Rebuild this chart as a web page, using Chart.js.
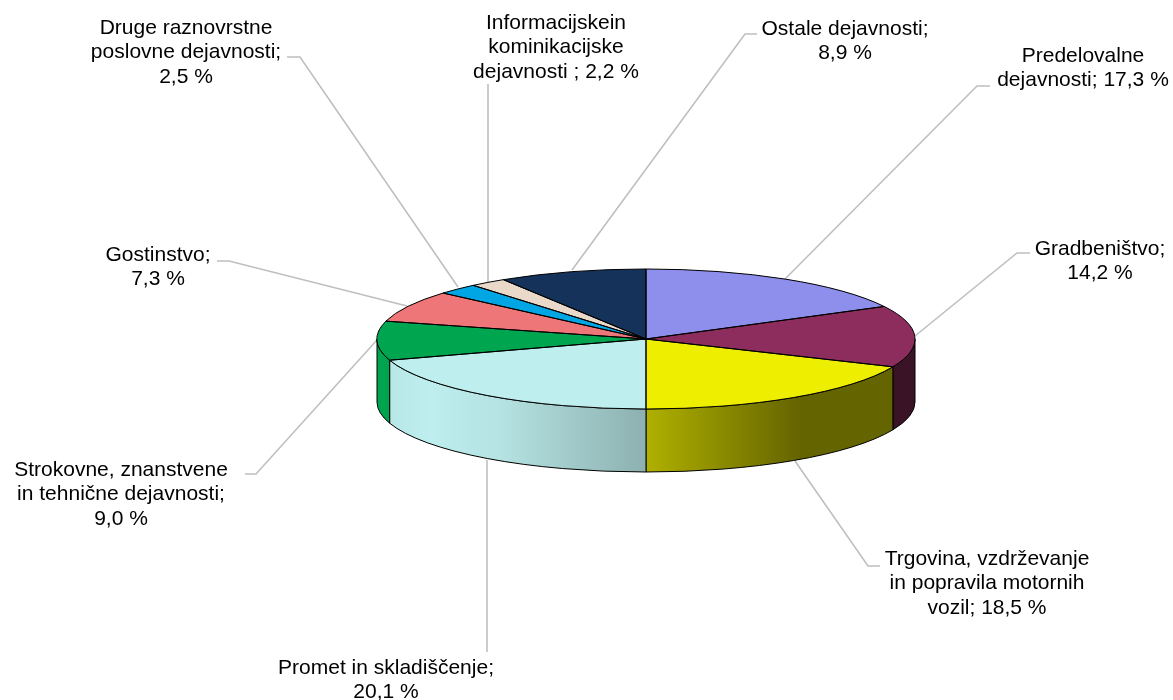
<!DOCTYPE html>
<html><head><meta charset="utf-8">
<style>html,body{margin:0;padding:0;background:#fff}canvas{display:block}</style>
<script src="https://cdn.jsdelivr.net/npm/chart.js@4"></script>
</head><body>
<canvas id="c" width="1173" height="700"></canvas>
<script>
const categories = ['Predelovalne dejavnosti','Gradbeništvo','Trgovina, vzdrževanje in popravila motornih vozil','Promet in skladiščenje','Strokovne, znanstvene in tehnične dejavnosti','Gostinstvo','Druge raznovrstne poslovne dejavnosti','Informacijskein kominikacijske dejavnosti','Ostale dejavnosti'];
const values = [17.3,14.2,18.5,20.1,9.0,7.3,2.5,2.2,8.9];
const colors = ['#8E8EEC','#8C2D5E','#EEEE00','#BEEEEE','#00A64F','#EF7678','#00A5E3','#EAD9C9','#14325A'];
const labelLines = [
  ['Predelovalne','dejavnosti; {v}'],
  ['Gradbeništvo;','{v}'],
  ['Trgovina, vzdrževanje','in popravila motornih','vozil; {v}'],
  ['Promet in skladiščenje;','{v}'],
  ['Strokovne, znanstvene','in tehnične dejavnosti;','{v}'],
  ['Gostinstvo;','{v}'],
  ['Druge raznovrstne','poslovne dejavnosti;','{v}'],
  ['Informacijskein','kominikacijske','dejavnosti ; {v}'],
  ['Ostale dejavnosti;','{v}']
];
// Layout only: label centre x, first-line centre y, leader polyline.
const labelX = [1083,1100,987,386,121,158,186,556,845];
const labelY = [56,249,559,668,470,255,28,23,29];
const leaders = [
  [[990,86],[977,86],[785,279]],
  [[1030,253],[1017,253],[915,336]],
  [[880,566],[868,566],[795,461]],
  [[487,652],[487,460]],
  [[245,474],[256,474],[377,340]],
  [[217,261],[229,261],[407,306]],
  [[287,57],[300,57],[458,287]],
  [[488,84],[488,283]],
  [[757,34],[745,34],[572,270]]
];
const RY = 70, DEPTH = 63, LINE = 24.7, FONT = '21px "Liberation Sans", Arial, sans-serif';
// wall shade by x position
const shadeStops = [[377,1],[390,0.97],[430,1],[500,0.95],[646,0.74],[800,0.42],[915,0.42]];

function shade(hex,f){
  const n=parseInt(hex.slice(1),16);
  return `rgb(${Math.round((n>>16)*f)},${Math.round(((n>>8)&255)*f)},${Math.round((n&255)*f)})`;
}
const tiltPlugin = {
  id:'tilt',
  beforeDatasetsDraw(chart){
    const ctx=chart.ctx, arcs=chart.getDatasetMeta(0).data;
    const cx=arcs[0].x, cy=arcs[0].y, R=arcs[0].outerRadius;
    // leaders
    ctx.save();
    ctx.strokeStyle='#BFBFBF';ctx.lineWidth=1.6;
    leaders.forEach(pts=>{ctx.beginPath();pts.forEach((p,i)=>i?ctx.lineTo(p[0],p[1]):ctx.moveTo(p[0],p[1]));ctx.stroke();});
    // side walls, front half of the ellipse only
    arcs.forEach((a,i)=>{
      let s=a.startAngle, e=a.endAngle;
      const tau=Math.PI*2;
      while(s<0){s+=tau;e+=tau;}
      while(s>=tau){s-=tau;e-=tau;}
      // visible ranges: [0,PI] and [2PI,3PI]
      [[0,Math.PI],[tau,tau+Math.PI]].forEach(([lo,hi])=>{
        const a0=Math.max(s,lo), a1=Math.min(e,hi);
        if(a1<=a0) return;
        const g=ctx.createLinearGradient(377,0,915,0);
        shadeStops.forEach(([x,f])=>g.addColorStop((x-377)/538,shade(colors[i],f)));
        ctx.beginPath();
        ctx.ellipse(cx,cy,R,RY,0,a0,a1);
        ctx.ellipse(cx,cy+DEPTH,R,RY,0,a1,a0,true);
        ctx.closePath();
        ctx.fillStyle=g;ctx.fill();
        ctx.strokeStyle='#000';ctx.lineWidth=1;ctx.stroke();
      });
    });
    ctx.restore();
    ctx.save();
    ctx.translate(cx,cy);ctx.scale(1,RY/R);ctx.translate(-cx,-cy);
  },
  afterDatasetsDraw(chart){
    const ctx=chart.ctx, arcs=chart.getDatasetMeta(0).data;
    ctx.restore();
    const cx=arcs[0].x, cy=arcs[0].y, R=arcs[0].outerRadius;
    ctx.save();
    ctx.strokeStyle='#000';ctx.lineWidth=1;
    arcs.forEach(a=>{
      ctx.beginPath();
      ctx.moveTo(cx,cy);
      ctx.ellipse(cx,cy,R,RY,0,a.startAngle,a.endAngle);
      ctx.closePath();
      ctx.stroke();
    });
    // labels
    ctx.fillStyle='#000';ctx.font=FONT;ctx.textAlign='center';ctx.textBaseline='middle';
    labelLines.forEach((lines,i)=>{
      const v=values[i].toFixed(1).replace('.',',')+' %';
      lines.forEach((t,k)=>ctx.fillText(t.replace('{v}',v),labelX[i],labelY[i]+k*LINE));
    });
    ctx.restore();
  }
};
new Chart(document.getElementById('c'),{
  type:'pie',
  data:{labels:categories,datasets:[{data:values,backgroundColor:colors,borderWidth:0,radius:269}]},
  options:{
    responsive:false,animation:false,
    layout:{padding:{left:119,bottom:22}},
    plugins:{legend:{display:false},tooltip:{enabled:false}}
  },
  plugins:[tiltPlugin]
});
</script>
</body></html>
